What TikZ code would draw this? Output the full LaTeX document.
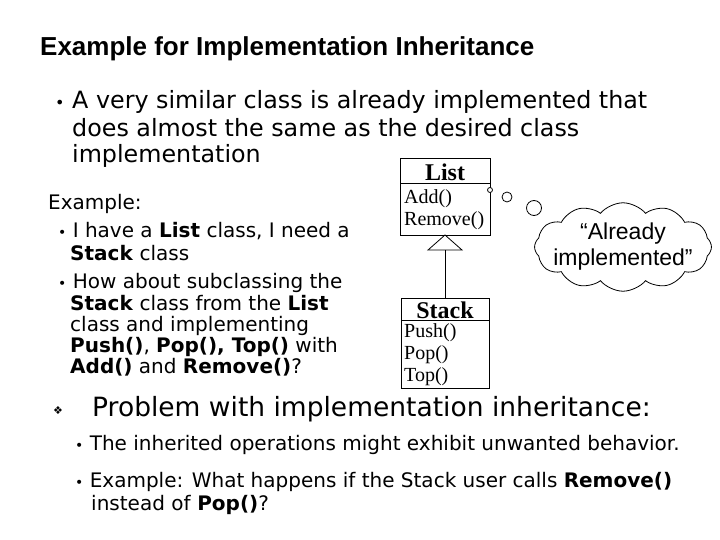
\documentclass[tikz,border=0pt]{standalone}
\usepackage{fontspec}
\setmainfont{DejaVu Sans}
\newfontfamily\titlefont{Liberation Sans}
\newfontfamily\umlfont{Liberation Serif}
\usetikzlibrary{shapes.symbols,positioning}
\tikzset{
  txt/.style={anchor=west,inner sep=0pt,font=\fontsize{20}{22}\selectfont,execute at begin node=\strut},
  big/.style={anchor=west,inner sep=0pt,font=\fontsize{23.8}{26}\selectfont,execute at begin node=\strut},
  sub/.style={anchor=west,inner sep=0pt,font=\fontsize{20}{22}\selectfont,execute at begin node=\strut},
  uml/.style={anchor=west,inner sep=0pt,font=\umlfont\fontsize{20}{22}\selectfont,execute at begin node=\strut},
  box/.style={draw,thick},
  bubble/.style={draw,thick,circle,inner sep=0pt}
}
\newcommand{\bul}{{\fontsize{14}{14}\selectfont•}\ }
\begin{document}
\begin{tikzpicture}[x=1pt,y=-1pt]
    \useasboundingbox (0,0) rectangle (720,540);
    \node[anchor=west,inner sep=0pt,font=\titlefont\bfseries\fontsize{26}{28}\selectfont] (title) at (40,50) {\strut Example for Implementation Inheritance};

    \node[big] (b1) at (55,103) {\fontsize{16}{16}\selectfont•};
    \node[big] (l1) at (72,103) {A very similar class is already implemented that};
    \node[big] (l2) at (72,131) {does almost the same as the desired class};
    \node[big] (l3) at (72,157) {implementation};

    \node[txt] (ex) at (48,205) {Example:};
    \node[txt] (e1) at (58,233) {\bul I have a \textbf{List} class, I need a};
    \node[txt] (e2) at (70,256) {\textbf{Stack} class};
    \node[txt] (e3) at (58,284) {\bul How about subclassing the};
    \node[txt] (e4) at (70,306) {\textbf{Stack} class from the \textbf{List}};
    \node[txt] (e5) at (70,327) {class and implementing};
    \node[txt] (e6) at (70,348) {\textbf{Push()}, \textbf{Pop(), Top()} with};
    \node[txt] (e7) at (70,369) {\textbf{Add()} and \textbf{Remove()}?};

    % class boxes
    \draw[box] (400,158) rectangle (490,235);
    \draw[box] (400,183) -- (490,183);
    \node[font=\umlfont\bfseries\fontsize{24}{26}\selectfont,inner sep=0pt] (list) at (445,172) {List};
    \node[uml] (add) at (404,199) {Add()};
    \node[uml] (rem) at (404,221) {Remove()};

    \draw[box] (401,298) rectangle (489,388);
    \draw[box] (401,320) -- (489,320);
    \node[font=\umlfont\bfseries\fontsize{24}{26}\selectfont,inner sep=0pt] (stack) at (445,310) {Stack};
    \node[uml] (push) at (404,333) {Push()};
    \node[uml] (pop) at (404,355) {Pop()};
    \node[uml] (top) at (404,377) {Top()};

    \coordinate (tip) at (445,235);
    \draw[thick] (tip) -- (462,250) -- (428,250) -- cycle;
    \draw[thick] (445,250) -- (445,298);

    % thought bubble
    \node[bubble,minimum size=5pt,fill=white] (t1) at (490,190) {};
    \node[bubble,minimum size=10pt] (t2) at (507,197) {};
    \node[bubble,minimum size=15pt] (t3) at (534,208) {};
    \node[draw,thick,cloud,cloud puffs=12,cloud puff arc=100,aspect=2.5,inner sep=-8pt,align=center,font=\titlefont\fontsize{23}{26}\selectfont] (cloud) at (623,247) {“Already\\implemented”};

    \node[inner sep=0pt,font=\fontsize{11}{11}\selectfont] (dia) at (58,411) {❖};
    \node[anchor=west,inner sep=0pt,font=\fontsize{26.5}{28}\selectfont] (p1) at (92,411) {\strut Problem with implementation inheritance:};
    \node[sub] (s1) at (75,446) {\bul The inherited operations might exhibit unwanted behavior.};
    \node[sub] (s2) at (75,483) {\bul Example: What happens if the Stack user calls \textbf{Remove()}};
    \node[sub] (s3) at (91,506) {instead of \textbf{Pop()}?};
\end{tikzpicture}
\end{document}
